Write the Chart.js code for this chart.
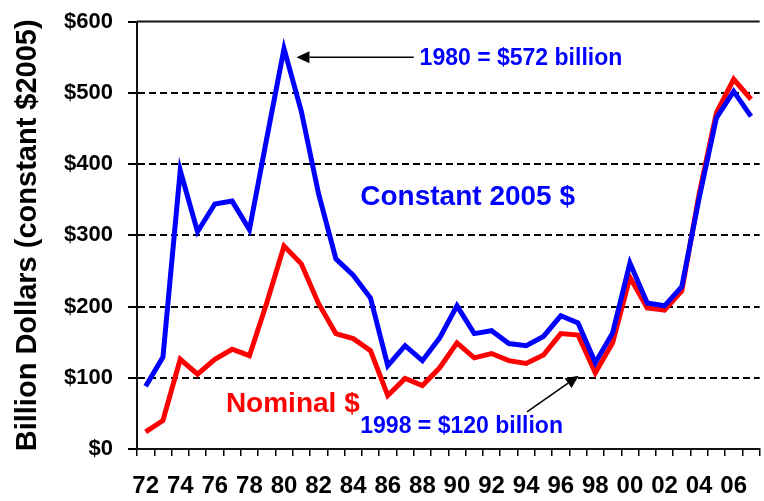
<!DOCTYPE html>
<html>
<head>
<meta charset="utf-8">
<script src="https://cdn.jsdelivr.net/npm/chart.js@4.4.1/dist/chart.umd.min.js"></script>
<style>
  html, body { margin: 0; padding: 0; background: #fff; overflow: hidden; }
  #wrap { width: 767px; height: 501px; }
</style>
</head>
<body>
<div id="wrap"><canvas id="chart"></canvas></div>
<script>
// Years 1972-2007, shown as two-digit labels
const years = ['72', '73', '74', '75', '76', '77', '78', '79', '80', '81', '82', '83',
  '84', '85', '86', '87', '88', '89', '90', '91', '92', '93', '94', '95',
  '96', '97', '98', '99', '00', '01', '02', '03', '04', '05', '06', '07'];

// Billion dollars, constant 2005 $
const constantDollars = [88, 129, 391, 305, 344, 348, 308, 436, 562, 474, 358, 267,
  244, 212, 117, 145, 124, 156, 201, 162, 166, 148, 145, 158,
  187, 177, 121, 163, 261, 205, 201, 228, 352, 465, 502, 467];

// Billion dollars, nominal $
const nominalDollars = [24, 40, 126, 105, 126, 140, 131, 205, 285, 260, 204, 162,
  155, 138, 75, 99, 89, 114, 149, 128, 134, 124, 120, 132,
  162, 160, 107, 149, 241, 198, 195, 222, 358, 472, 519, 491];

const yMax = 600;
const yStep = 100;

const FONT = "'Liberation Sans', Arial, sans-serif";
Chart.defaults.font.family = FONT;
Chart.defaults.color = '#000';

function arrow(ctx, x1, y1, x2, y2) {
  const a = Math.atan2(y2 - y1, x2 - x1);
  const len = 13, half = 6;
  ctx.beginPath();
  ctx.moveTo(x1, y1);
  ctx.lineTo(x2 - len * Math.cos(a), y2 - len * Math.sin(a));
  ctx.stroke();
  ctx.beginPath();
  ctx.moveTo(x2, y2);
  ctx.lineTo(x2 - len * Math.cos(a) + half * Math.sin(a), y2 - len * Math.sin(a) - half * Math.cos(a));
  ctx.lineTo(x2 - len * Math.cos(a) - half * Math.sin(a), y2 - len * Math.sin(a) + half * Math.cos(a));
  ctx.closePath();
  ctx.fill();
}

// top frame line + text notes and arrows
const notes = {
  id: 'notes',
  afterDraw(chart) {
    const { ctx, chartArea, scales: { x, y } } = chart;
    ctx.save();
    ctx.strokeStyle = '#111';
    ctx.lineWidth = 2;
    ctx.beginPath();
    ctx.moveTo(chartArea.left, chartArea.top);
    ctx.lineTo(chartArea.right, chartArea.top);
    ctx.stroke();

    ctx.textBaseline = 'middle';
    ctx.textAlign = 'left';
    ctx.fillStyle = '#0000ff';
    ctx.font = 'bold 28px ' + FONT;
    ctx.fillText('Constant 2005 $', x.getPixelForValue(12.41), y.getPixelForValue(353));
    ctx.font = 'bold 23px ' + FONT;
    ctx.fillText('1980 = $572 billion', x.getPixelForValue(15.84), y.getPixelForValue(548));
    ctx.fillText('1998 = $120 billion', x.getPixelForValue(12.41), y.getPixelForValue(31));
    ctx.fillStyle = '#ff0000';
    ctx.font = 'bold 28px ' + FONT;
    ctx.fillText('Nominal $', x.getPixelForValue(4.64), y.getPixelForValue(63));

    ctx.strokeStyle = '#000';
    ctx.fillStyle = '#000';
    ctx.lineWidth = 1.5;
    arrow(ctx, x.getPixelForValue(15.5), y.getPixelForValue(550), x.getPixelForValue(8.72), y.getPixelForValue(550));
    arrow(ctx, x.getPixelForValue(22.05), y.getPixelForValue(52), x.getPixelForValue(25.04), y.getPixelForValue(103));
    ctx.restore();
  }
};

new Chart(document.getElementById('chart'), {
  type: 'line',
  data: {
    labels: years,
    datasets: [
      {
        label: 'Constant 2005 $',
        data: constantDollars,
        borderColor: '#0000ff',
        borderWidth: 5,
        pointRadius: 0,
        tension: 0,
        fill: false
      },
      {
        label: 'Nominal $',
        data: nominalDollars,
        borderColor: '#ff0000',
        borderWidth: 5,
        pointRadius: 0,
        tension: 0,
        fill: false
      }
    ]
  },
  options: {
    responsive: true,
    maintainAspectRatio: false,
    animation: false,
    layout: { padding: { top: 19, right: 0, left: 0, bottom: 0 } },
    plugins: {
      legend: { display: false },
      tooltip: { enabled: false }
    },
    scales: {
      x: {
        offset: true,
        afterFit(scale) { scale.height = 52; },
        border: { display: true, color: '#111', width: 2 },
        grid: {
          offset: true,
          drawOnChartArea: false,
          drawTicks: true,
          tickLength: 7,
          color: '#000',
          lineWidth: 1.5
        },
        ticks: {
          autoSkip: false,
          maxRotation: 0,
          padding: 16,
          font: { size: 24, weight: 'bold' },
          callback: (v, i) => (i % 2 === 0 ? years[i] : '')
        }
      },
      y: {
        min: 0,
        max: yMax,
        afterFit(scale) { scale.width = 137; },
        border: { display: true, color: '#111', width: 2, dash: [7, 4] },
        grid: {
          color: c => (c.tick.value === 0 || c.tick.value === yMax) ? 'rgba(0,0,0,0)' : '#000',
          lineWidth: 2,
          tickColor: '#000',
          tickWidth: 2,
          tickLength: 9,
          tickBorderDash: []
        },
        ticks: {
          stepSize: yStep,
          padding: 15,
          font: { size: 22, weight: 'bold', lineHeight: 0.6 },
          callback: v => '$' + v
        },
        title: {
          display: true,
          text: 'Billion Dollars (constant $2005)',
          font: { size: 29, weight: 'bold' },
          padding: { top: 11, bottom: 0 }
        }
      }
    }
  },
  plugins: [notes]
});
</script>
</body>
</html>
